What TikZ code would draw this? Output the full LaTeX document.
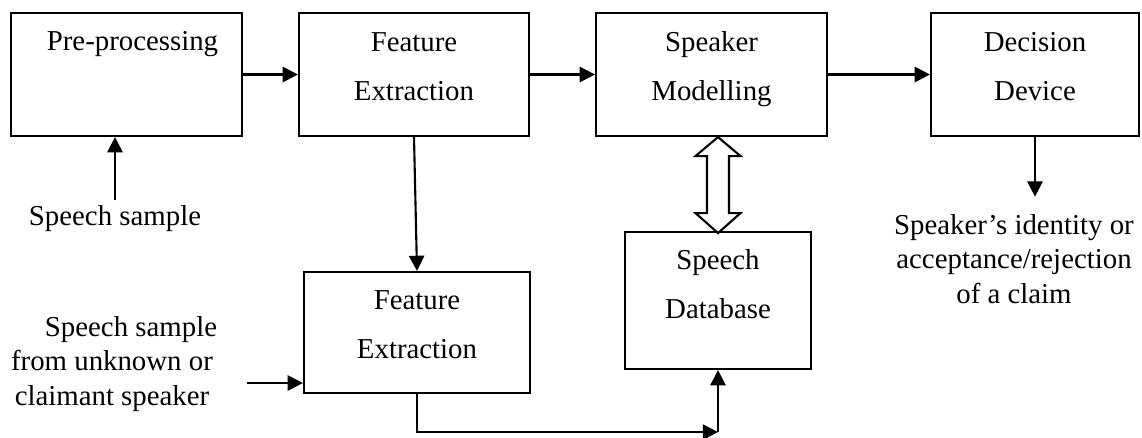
\documentclass[tikz,border=0pt]{standalone}
\usepackage{fontspec}
\setmainfont{Liberation Serif}
\usetikzlibrary{arrows.meta, calc, positioning}

\tikzset{
  block/.style={draw, line width=1.5pt, inner sep=0pt},
  txt/.style={font=\fontsize{20.5}{35.5}\selectfont, align=center, inner sep=0pt},
  note/.style={font=\fontsize{20.5}{24.2}\selectfont, align=center},
  arr/.style={line width=1.5pt, -{Triangle[length=3.8mm, width=3.8mm]}},
  hollow/.style={draw, line width=1.5pt, fill=white, line join=miter},
}

\begin{document}
\begin{tikzpicture}[x=0.025cm, y=-0.025cm]
  \useasboundingbox (0,0) rectangle (1142,437);

  % top row of blocks
  \node[block, minimum width=5.775cm, minimum height=3.075cm] (pre) at (126.5,74.5) {};
  \node[block, minimum width=5.75cm, minimum height=3.075cm] (fe1) at (414,74.5) {};
  \node[block, minimum width=5.775cm, minimum height=3.075cm] (sm) at (711.5,74.5) {};
  \node[block, minimum width=5.2cm, minimum height=3.075cm] (dd) at (1035,74.5) {};

  % lower blocks
  \node[block, minimum width=5.65cm, minimum height=3.025cm] (fe2) at (417,332.5) {};
  \node[block, minimum width=4.65cm, minimum height=3.425cm] (db) at (718,300.5) {};

  % block texts (base = last line)
  \node[txt, anchor=base] (pre-t) at ($(pre.north)+(6,39)$) {Pre-processing};
  \node[txt, anchor=base] (fe1-t) at ($(fe1.north)+(0,89)$) {Feature\\Extraction};
  \node[txt, anchor=base] (sm-t) at ($(sm.north)+(0,89)$) {Speaker\\Modelling};
  \node[txt, anchor=base] (dd-t) at ($(dd.north)+(0,89)$) {Decision\\Device};
  \node[txt, anchor=base] (fe2-t) at ($(fe2.north)+(0,88)$) {Feature\\Extraction};
  \node[txt, anchor=base] (db-t) at ($(db.north)+(0,88)$) {Speech\\Database};

  % outside labels
  \node[note, anchor=base] (ss1) at (115,225) {Speech sample};
  \node[note, anchor=base] (ss2) at (112,405) {\hspace*{0.95cm}Speech sample\\from unknown or\\claimant speaker};
  \node[note, anchor=base, inner ysep=0.45cm] (out) at (1014,303) {Speaker’s identity or\\acceptance/rejection\\of a claim};

  \coordinate (ss2-in) at (247,383);
  \coordinate (join) at ($(db.south)+(0,62)$);

  % connectors
  \draw[arr] (pre) -- (fe1);
  \draw[arr] (fe1) -- (sm);
  \draw[arr] (sm) -- (dd);
  \draw[arr] (ss1.north) -- (ss1.north |- pre.south);
  \draw[arr] (dd.south) -- (dd.south |- out.north);
  \draw[arr] (fe1.south) -- (fe2.north);
  \draw[arr] (ss2-in) -- (ss2-in -| fe2.west);
  \draw[arr] (fe2.south) |- (join);
  \draw[arr] (join) -- (db.south);

  % two-way link to the database
  \draw[hollow] (db.north |- sm.south) -- ++(22.5,19) -- ++(-11.5,0) -- ++(0,57)
    -- ++(11.5,0) -- ++(-22.5,20) -- ++(-22.5,-20) -- ++(11.5,0) -- ++(0,-57)
    -- ++(-11.5,0) -- cycle;
\end{tikzpicture}
\end{document}
